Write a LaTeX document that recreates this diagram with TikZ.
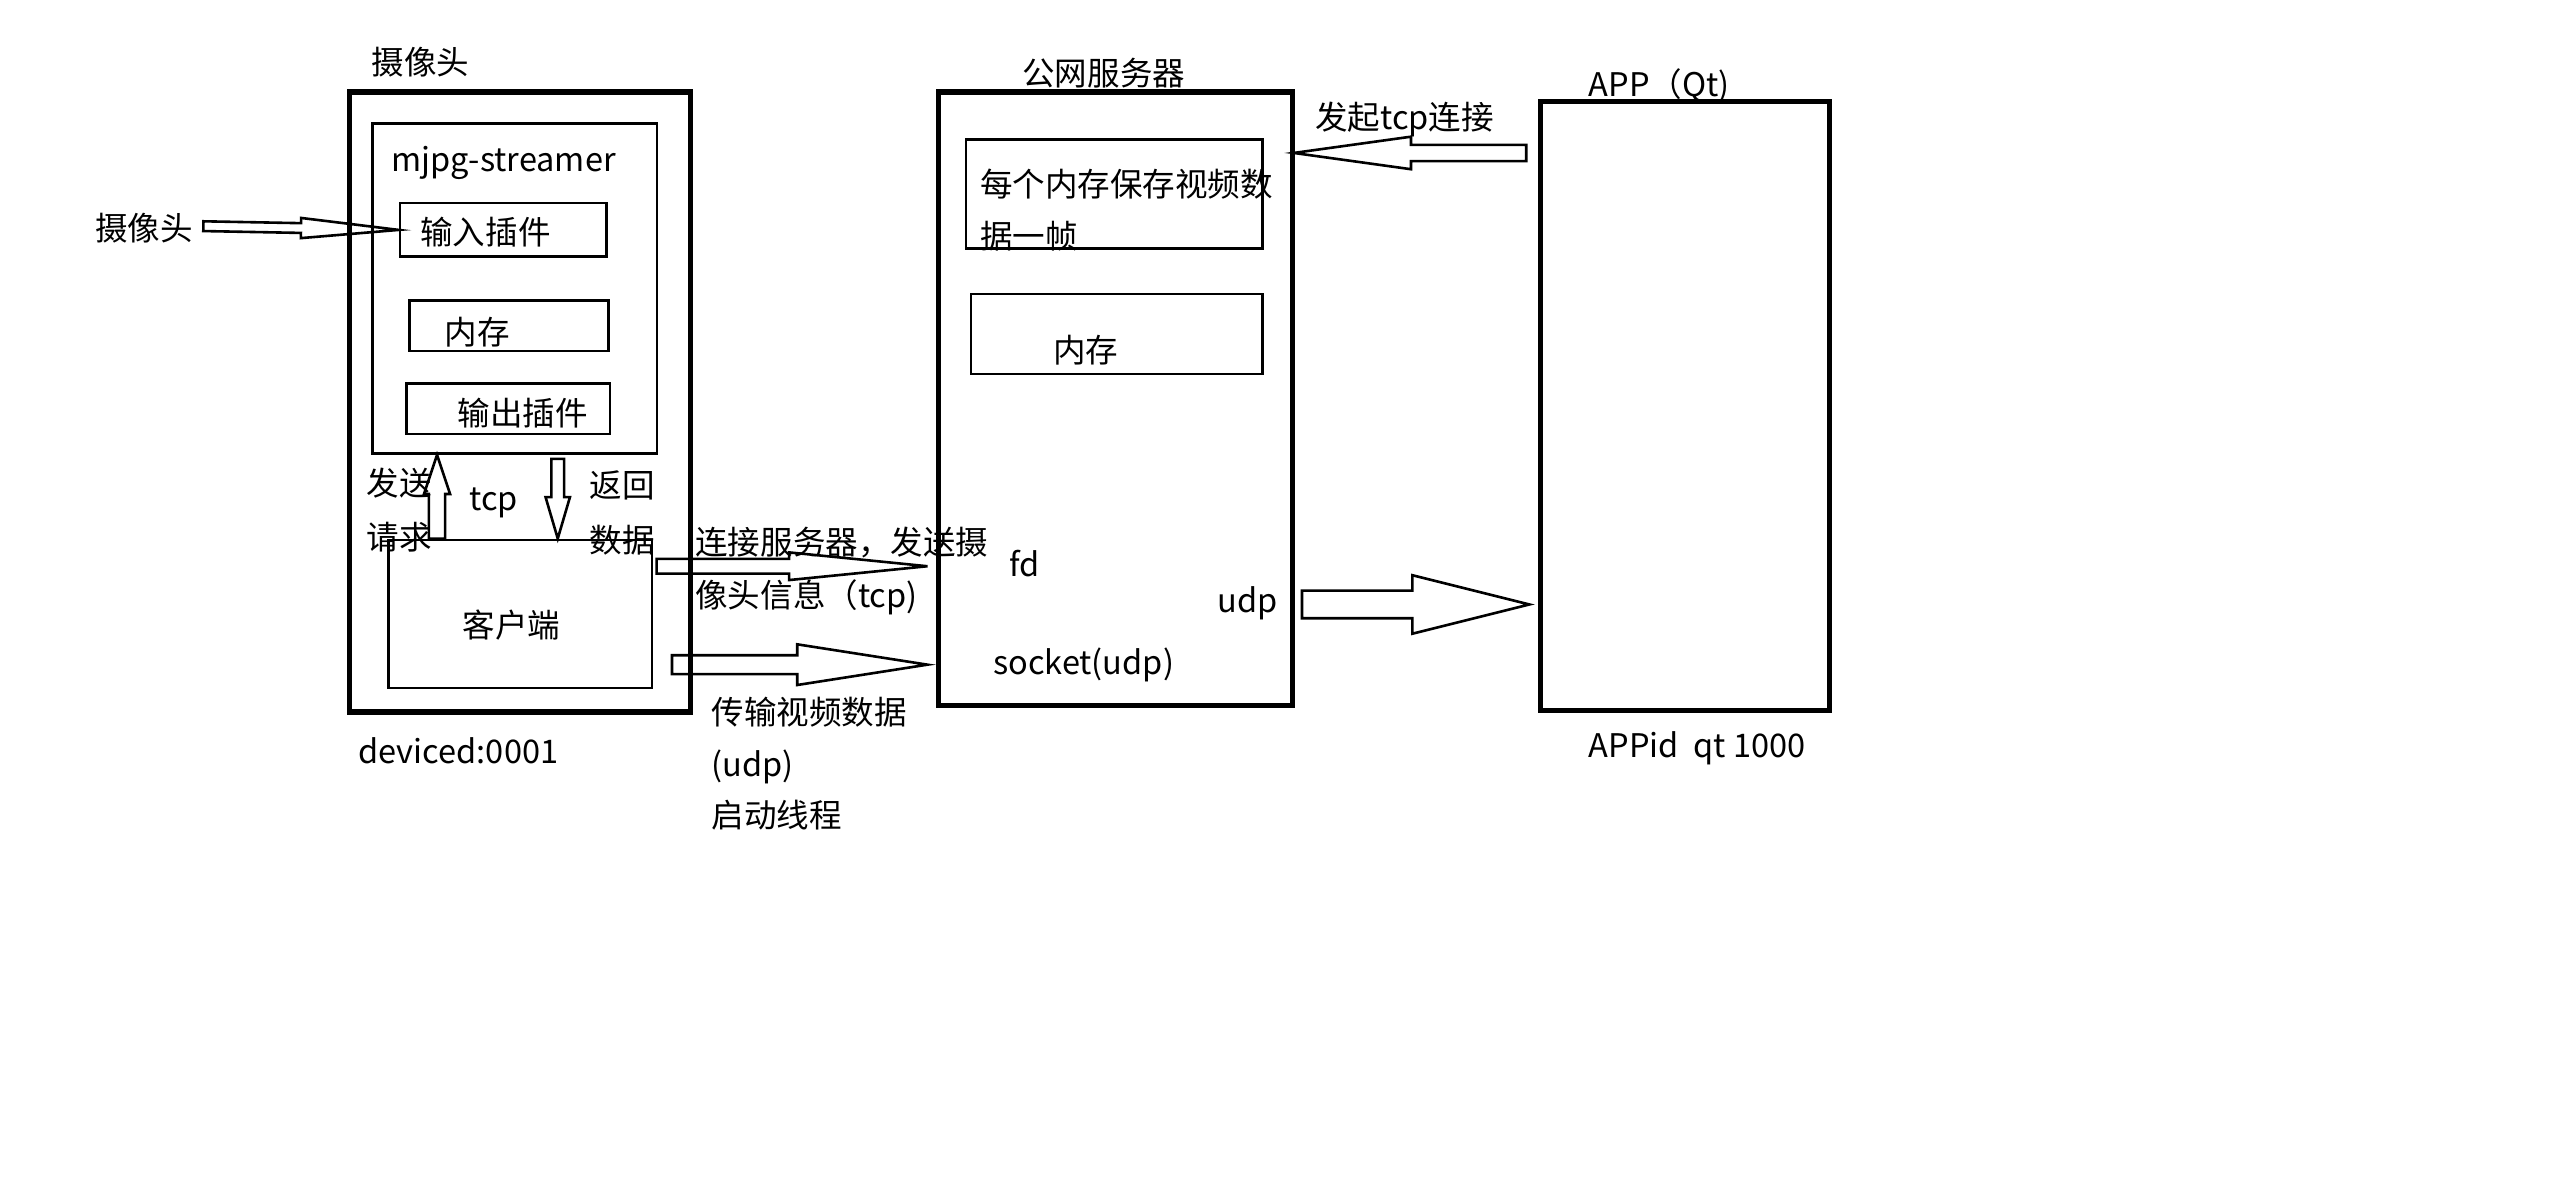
\documentclass[tikz,border=0pt]{standalone}
\usepackage{fontspec}
\setmainfont{Noto Sans CJK SC}
\usetikzlibrary{calc}

\tikzset{
  box/.style={draw, line width=0.8pt, inner sep=0pt, anchor=north west},
  bigbox/.style={box, line width=1.6pt},
  lbl/.style={anchor=west, inner sep=0pt, text height=0.8em, text depth=0.05em,
    font=\fontsize{10}{12}\selectfont},
}
% block arrow: start, tip, shaft half width, head length, head half width
\newcommand{\blockarrow}[5]{%
  \draw[line width=0.8pt, line join=miter] let \p1=(#1), \p2=(#2),
    \n1={atan2(\y2-\y1,\x2-\x1)}, \n2={veclen(\x2-\x1,\y2-\y1)} in
    [shift={(\p1)}, rotate=\n1]
    (0pt,#3) -- ({\n2-#4},#3) -- ({\n2-#4},#5) -- (\n2,0pt)
    -- ({\n2-#4},-#5) -- ({\n2-#4},-#3) -- (0pt,-#3) -- cycle;}

\begin{document}
\begin{tikzpicture}[x=0.5pt,y=-0.5pt]
\useasboundingbox (0,0) rectangle (1569.7,735.1);

%Shape: camera
\node[bigbox, minimum width=105pt, minimum height=190.5pt] (cam) at (213,55) {};
\node[box, minimum width=87.5pt, minimum height=101.5pt] (mjpg) at (228,75) {};
\node[box, minimum width=63.5pt, minimum height=16.5pt] (inplug) at (245,124) {};
\node[box, minimum width=61pt, minimum height=15.5pt] (mem1) at (251,184) {};
\node[box, minimum width=62.5pt, minimum height=15.5pt] (outplug) at (249,235) {};
\node[box, minimum width=81pt, minimum height=45.5pt] (client) at (238,331) {};

%Shape: server
\node[bigbox, minimum width=109pt, minimum height=188.5pt] (server) at (575,55) {};
\node[box, minimum width=91pt, minimum height=33.5pt] (frame) at (593,85) {};
\node[box, minimum width=89.5pt, minimum height=24.5pt] (mem2) at (596,180) {};

%Shape: app
\node[bigbox, minimum width=89pt, minimum height=187pt] (app) at (945,61) {};

% Text Node
\node[lbl] (camT) at (228,38) {摄像头};
\node[lbl] (serverT) at (628,45) {公网服务器};
\node[lbl] (appT) at (976,52) {APP（Qt)};
\node[lbl] (mjpgT) at (240,98) {mjpg-streamer};
\node[lbl] (inplugT) at (258,143) {输入插件};
\node[lbl] (mem1T) at (273,204) {内存};
\node[lbl] (outplugT) at (281,254) {输出插件};
\node[lbl] (clientT) at (284,384) {客户端};
\node[lbl] (frameA) at (602,113) {每个内存保存视频数};
\node[lbl] (frameB) at (602,145) {据一帧};
\node[lbl] (mem2T) at (647,215) {内存};
\node[lbl] (srcT) at (58,140) {摄像头};
\node[lbl] (reqA) at (225,297) {发送};
\node[lbl] (reqB) at (225,330) {请求};
\node[lbl] (tcpT) at (288,306) {tcp};
\node[lbl] (retA) at (362,298) {返回};
\node[lbl] (retB) at (362,332) {数据};
\node[lbl] (connA) at (427,333) {连接服务器，发送摄};
\node[lbl] (connB) at (427,366) {像头信息（tcp)};
\node[lbl] (vidA) at (437,438) {传输视频数据};
\node[lbl] (vidB) at (437,470) {(udp)};
\node[lbl] (vidC) at (437,501) {启动线程};
\node[lbl] (devT) at (220,462) {deviced:0001};
\node[lbl] (fdT) at (620,347) {fd};
\node[lbl] (udpT) at (748,369) {udp};
\node[lbl] (sockT) at (610,407) {socket(udp)};
\node[lbl] (appidT) at (976,458) {APPid\ \ qt 1000};
\node[lbl] (tcpconnT) at (808,72) {发起tcp连接};

%Shape: block arrows
\coordinate (src) at (125,139);
\coordinate (req) at (268.6,0);
\coordinate (ret) at (342.8,0);
\coordinate (tcpy) at (0,348);
\coordinate (vid) at (413,408.5);
\coordinate (udpy) at (0,371.5);
\coordinate (appy) at (0,94);
\blockarrow{src}{inplug.west}{1.5pt}{30pt}{3.1pt}
\blockarrow{req |- client.north}{req |- mjpg.south}{2.5pt}{12pt}{4pt}
\blockarrow{[yshift=-1.2pt]ret |- mjpg.south}{ret |- client.north}{1.95pt}{12.75pt}{3.75pt}
\blockarrow{[xshift=1pt]client.east |- tcpy}{[xshift=-2.5pt]server.west |- tcpy}{2.25pt}{42.5pt}{4.25pt}
\blockarrow{vid}{[xshift=-2.5pt]server.west |- vid}{2.9pt}{40pt}{6.25pt}
\blockarrow{[xshift=2pt]server.east |- udpy}{[xshift=-2.5pt]app.west |- udpy}{4.25pt}{36pt}{9pt}
\blockarrow{[xshift=-3.5pt]app.west |- appy}{[xshift=-0.5pt]server.east |- appy}{2.5pt}{36pt}{5pt}
\end{tikzpicture}
\end{document}
